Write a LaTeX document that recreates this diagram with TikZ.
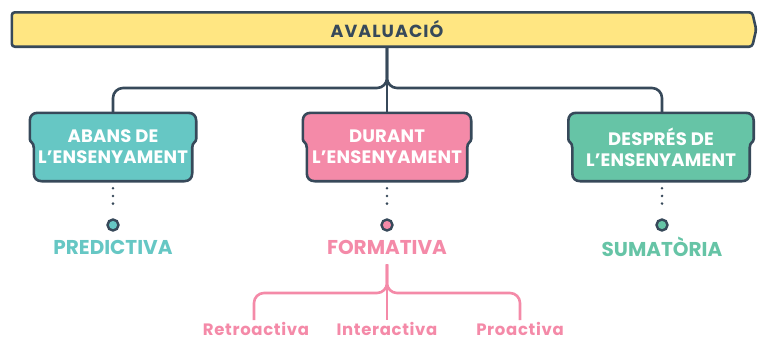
\documentclass[tikz,border=0pt]{standalone}
\usepackage{fontspec}
\setmainfont{Poppins}
\usetikzlibrary{backgrounds}

\definecolor{fosc}{HTML}{37495A}
\definecolor{groc}{HTML}{FFE682}
\definecolor{turquesa}{HTML}{66C7C4}
\definecolor{rosa}{HTML}{F48AA8}
\definecolor{verd}{HTML}{66C4A6}

% caixa amb pestanya: nom del node, color
\newcommand{\caixa}[2]{%
  \draw[vora, sharp corners, fill=#2]
    (#1.north) -- ([xshift=-8pt]#1.north east)
    .. controls ([xshift=-3pt]#1.north east) and ([yshift=-3pt]#1.north east) .. ([yshift=-8pt]#1.north east)
    -- ([yshift=-26pt]#1.north east)
    .. controls ([yshift=-30pt]#1.north east) and ([xshift=-4pt,yshift=-29pt]#1.north east) .. ([xshift=-4pt,yshift=-35pt]#1.north east)
    -- ([xshift=-4pt,yshift=8pt]#1.south east)
    .. controls ([xshift=-4pt,yshift=3pt]#1.south east) and ([xshift=-7pt]#1.south east) .. ([xshift=-12pt]#1.south east)
    -- ([xshift=12pt]#1.south west)
    .. controls ([xshift=7pt]#1.south west) and ([xshift=4pt,yshift=3pt]#1.south west) .. ([xshift=4pt,yshift=8pt]#1.south west)
    -- ([xshift=4pt,yshift=-35pt]#1.north west)
    .. controls ([xshift=4pt,yshift=-29pt]#1.north west) and ([yshift=-30pt]#1.north west) .. ([yshift=-26pt]#1.north west)
    -- ([yshift=-8pt]#1.north west)
    .. controls ([yshift=-3pt]#1.north west) and ([xshift=3pt]#1.north west) .. ([xshift=8pt]#1.north west)
    -- cycle;
}

\begin{document}
\begin{tikzpicture}[
    x=1pt, y=-1pt,
    vora/.style={draw=fosc, line width=2.6pt, rounded corners=7pt},
    etapa/.style={minimum height=68pt, inner sep=0pt, align=center, text=white, font=\fontsize{18}{21}\selectfont\bfseries\addfontfeatures{LetterSpace=1}},
    etiqueta/.style={inner sep=3pt, font=\fontsize{20}{22}\selectfont\bfseries},
    subetiqueta/.style={inner sep=1pt, text=rosa, font=\fontsize{16.5}{18}\selectfont\bfseries\addfontfeatures{LetterSpace=4}},
    branca/.style={draw=fosc, line width=2.6pt, rounded corners=10pt},
    branca rosa/.style={draw=rosa, line width=2.6pt, rounded corners=10pt},
    puntejat/.style={draw=fosc, line width=2.8pt, line cap=round, dash pattern=on 0pt off 7.7pt},
    punt/.style={circle, draw=fosc, line width=2.4pt, minimum size=11pt, inner sep=0pt}
]
    \useasboundingbox (0,0) rectangle (758,341);

    % Titol
    \node[minimum width=744pt, minimum height=34pt, inner sep=0pt, text=fosc, font=\fontsize{17.5}{20}\selectfont\bfseries\addfontfeatures{LetterSpace=6}] (avaluacio) at (384,29.5) {\hspace{6pt}AVALUACIÓ};

    % Etapes
    \node[etapa, minimum width=166pt] (abans) at (113,147) {ABANS DE\\L'ENSENYAMENT};
    \node[etapa, minimum width=168pt] (durant) at (387,147) {DURANT\\L'ENSENYAMENT};
    \node[etapa, minimum width=185pt] (despres) at (661,147) {DESPRÉS DE\\L'ENSENYAMENT};

    \begin{scope}[on background layer]
        \draw[vora, fill=groc, rounded corners=3pt] (avaluacio.north west) -- ([xshift=-4pt]avaluacio.north east)
            -- (avaluacio.east) -- ([xshift=-4pt]avaluacio.south east) -- (avaluacio.south west) -- cycle;
        \caixa{abans}{turquesa}
        \caixa{durant}{rosa}
        \caixa{despres}{verd}
    \end{scope}

    \coordinate (nus) at (387,88);
    \draw[branca] (nus |- avaluacio.south) -- (durant.north);
    \draw[branca] (nus |- avaluacio.south) -- (nus) -| (abans.north);
    \draw[branca] (nus |- avaluacio.south) -- (nus) -| ([xshift=1pt]despres.north);

    % Tipus
    \node[punt, fill=turquesa] (p1) at (113,225) {};
    \node[punt, fill=rosa] (p2) at (387,225) {};
    \node[punt, fill=verd] (p3) at (662,225) {};

    \draw[puntejat] ([yshift=-7pt]abans.south) -- ([yshift=7pt]p1.north);
    \draw[puntejat] ([yshift=-7pt]durant.south) -- ([yshift=7pt]p2.north);
    \draw[puntejat] ([yshift=-7pt]despres.south -| p3) -- ([yshift=7pt]p3.north);

    \node[etiqueta, text=turquesa] (predictiva) at (113,247) {PREDICTIVA};
    \node[etiqueta, text=rosa] (formativa) at (387,247) {FORMATIVA};
    \node[etiqueta, text=verd] (sumatoria) at (662,247) {SUMATÒRIA};

    % Formativa
    \node[subetiqueta] (retro) at (256,329) {Retroactiva};
    \node[subetiqueta] (inter) at (387,329) {Interactiva};
    \node[subetiqueta] (pro) at (520,329) {Proactiva};

    \coordinate (nus2) at (387,293);
    \draw[branca rosa] ([yshift=-7pt]formativa.south) -- ([yshift=1pt]inter.north);
    \draw[branca rosa] ([yshift=-7pt]formativa.south) -- (nus2) -| ([yshift=1pt]retro.north -| 254,0);
    \draw[branca rosa] ([yshift=-7pt]formativa.south) -- (nus2) -| ([yshift=1pt]pro.north);
\end{tikzpicture}
\end{document}
